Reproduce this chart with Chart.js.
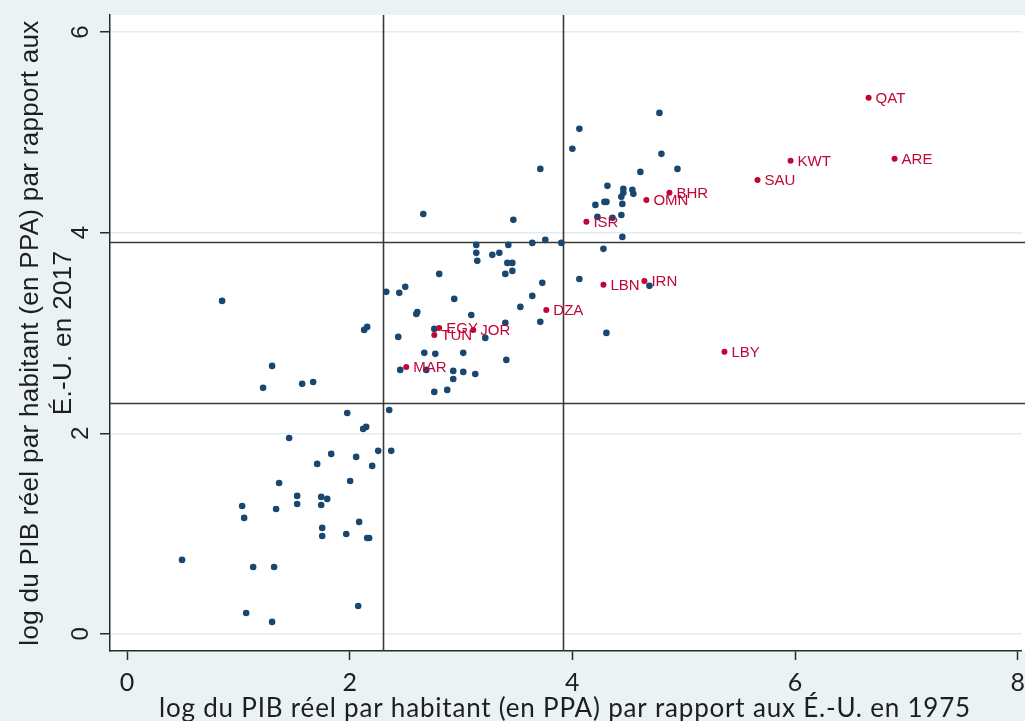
<!DOCTYPE html>
<html><head><meta charset="utf-8">
<script src="https://cdn.jsdelivr.net/npm/chart.js@4"></script>
<style>html,body{margin:0;padding:0;background:#eaf2f3;overflow:hidden}canvas{display:block}</style>
</head><body>
<canvas id="c" width="1025" height="721"></canvas>
<script>
// Other countries (blue)
const otherX = [0.494,1.070,1.303,1.133,1.321,1.034,1.052,1.339,1.366,1.456,1.528,1.528,1.744,1.798,1.744,1.708,1.834,1.753,1.753,1.969,
  2.085,2.157,2.175,2.004,2.058,2.202,2.256,2.373,1.978,2.121,2.148,2.076,2.355,1.222,1.303,1.573,1.672,0.854,2.130,2.157,
  2.328,2.445,2.499,2.436,2.804,2.598,2.607,2.760,2.670,2.769,3.020,2.454,2.688,2.930,3.020,3.128,2.930,2.760,2.876,2.939,
  3.092,3.218,3.398,3.407,3.533,3.640,3.712,3.730,4.063,3.137,3.137,3.146,3.281,3.344,3.425,3.416,3.461,3.398,3.461,3.640,
  3.757,3.901,2.661,3.470,3.712,4.000,4.063,4.782,4.800,4.944,4.611,4.315,4.458,4.458,4.539,4.548,4.440,4.449,4.288,4.306,
  4.207,4.225,4.360,4.440,4.449,4.279,4.692,4.306];
const otherY = [0.738,0.209,0.120,0.668,0.668,1.276,1.157,1.246,1.505,1.954,1.376,1.296,1.366,1.346,1.286,1.695,1.795,1.057,0.977,0.997,
  1.117,0.957,0.957,1.525,1.765,1.675,1.825,1.825,2.203,2.044,2.064,0.279,2.233,2.453,2.672,2.493,2.512,3.320,3.031,3.061,
  3.410,3.400,3.460,2.961,3.589,3.190,3.210,3.041,2.802,2.792,2.802,2.632,2.632,2.622,2.612,2.592,2.542,2.413,2.433,3.340,
  3.180,2.951,3.101,2.732,3.260,3.370,3.111,3.500,3.539,3.878,3.799,3.719,3.779,3.799,3.878,3.699,3.699,3.589,3.619,3.898,
  3.928,3.898,4.187,4.128,4.636,4.836,5.035,5.194,4.786,4.636,4.606,4.467,4.437,4.397,4.427,4.387,4.357,4.287,4.307,4.307,
  4.277,4.158,4.148,4.177,3.958,3.839,3.470,3.001];
// MENA countries (red, labelled)
const menaCodes = ['QAT','ARE','KWT','SAU','BHR','OMN','ISR','LBN','IRN','DZA','LBY','EGY','JOR','TUN','MAR'];
const menaX = [6.661,6.894,5.960,5.663,4.872,4.665,4.126,4.279,4.647,3.766,5.366,2.804,3.110,2.760,2.508];
const menaY = [5.344,4.736,4.716,4.526,4.397,4.327,4.108,3.480,3.519,3.230,2.812,3.051,3.031,2.981,2.662];
const xTicks = [0,2,4,6,8];
const yTicks = [0,2,4,6];
const refLines = [2.303,3.912];
const xTitle = 'log du PIB réel par habitant (en PPA) par rapport aux É.-U. en 1975';
const yTitle = ['log du PIB réel par habitant (en PPA) par rapport aux','É.-U. en 2017'];

const toPts = (xs, ys) => xs.map((x, i) => ({x, y: ys[i]}));

const decor = {
  id: 'decor',
  beforeDraw(chart) {
    const {ctx, chartArea: a} = chart;
    ctx.save();
    ctx.fillStyle = '#ffffff';
    ctx.fillRect(a.left, a.top, 1025 - a.left, a.bottom - a.top);
    ctx.restore();
  },
  beforeDatasetsDraw(chart) {
    const {ctx, chartArea: a, scales: {x, y}} = chart;
    ctx.save();
    ctx.strokeStyle = '#3a3a3a';
    ctx.lineWidth = 1.6;
    refLines.forEach(v => {
      const px = Math.round(x.getPixelForValue(v)) + 0.5;
      ctx.beginPath(); ctx.moveTo(px, a.top); ctx.lineTo(px, a.bottom); ctx.stroke();
      const py = Math.round(y.getPixelForValue(v)) + 0.5;
      ctx.beginPath(); ctx.moveTo(a.left, py); ctx.lineTo(1025, py); ctx.stroke();
    });
    ctx.restore();
  },
  afterDatasetsDraw(chart) {
    const {ctx} = chart;
    const meta = chart.getDatasetMeta(0);
    ctx.save();
    ctx.fillStyle = '#c10534';
    ctx.font = '15px "Liberation Sans", Arial, sans-serif';
    ctx.textBaseline = 'middle';
    ctx.textAlign = 'left';
    meta.data.forEach((el, i) => {
      ctx.fillText(menaCodes[i], el.x + 7, el.y + 1);
    });
    ctx.restore();
  },
  afterDraw(chart) {
    const {ctx, chartArea: a, scales: {y}} = chart;
    ctx.save();
    ctx.fillStyle = '#1e1e1e';
    // y tick labels, rotated
    ctx.font = '24px "Liberation Sans", Arial, sans-serif';
    ctx.textAlign = 'center';
    ctx.textBaseline = 'alphabetic';
    yTicks.forEach(v => {
      const py = y.getPixelForValue(v);
      ctx.save();
      ctx.translate(88, py);
      ctx.rotate(-Math.PI / 2);
      ctx.fillText(String(v), 0, 0);
      ctx.restore();
    });
    // y title, two lines rotated
    ctx.font = '26px "Liberation Sans", Arial, sans-serif';
    ctx.letterSpacing = '0.3px';
    const cy = (a.top + a.bottom) / 2;
    [38, 71].forEach((bx, i) => {
      ctx.save();
      ctx.translate(bx, cy);
      ctx.rotate(-Math.PI / 2);
      ctx.fillText(yTitle[i], 0, 0);
      ctx.restore();
    });
    // x title
    ctx.font = '26px Lato, "Open Sans", sans-serif';
    ctx.letterSpacing = '0.8px';
    ctx.textAlign = 'center';
    ctx.fillText(xTitle, 565, 717);
    ctx.restore();
  }
};

new Chart(document.getElementById('c'), {
  type: 'scatter',
  data: {
    datasets: [
      {label: 'MENA', data: toPts(menaX, menaY), backgroundColor: '#c10534', pointRadius: 3, borderWidth: 0, pointHoverRadius: 3},
      {label: 'Autres', data: toPts(otherX, otherY), backgroundColor: '#1a476f', pointRadius: 3.3, borderWidth: 0, pointHoverRadius: 3.3}
    ]
  },
  options: {
    responsive: false,
    animation: false,
    events: [],
    layout: {padding: {top: 15, right: 0, left: 0, bottom: 0}},
    plugins: {legend: {display: false}, tooltip: {enabled: false}},
    scales: {
      x: {
        type: 'linear',
        min: -0.153, max: 8.036,
        afterFit(s) { s.height = 70; s.paddingLeft = 0; s.paddingRight = 0; },
        afterBuildTicks(s) { s.ticks = xTicks.map(v => ({value: v})); },
        grid: {drawOnChartArea: false, color: 'rgba(0,0,0,0)', tickColor: '#2a2a2a', tickLength: 9, tickWidth: 1.5},
        border: {display: true, color: '#2a2a2a', width: 1.5},
        ticks: {color: '#1e1e1e', font: {family: 'Lato', size: 25}, padding: 8, maxRotation: 0, autoSkip: false}
      },
      y: {
        type: 'linear',
        min: -0.17, max: 6.17,
        afterFit(s) { s.width = 110; s.paddingTop = 0; s.paddingBottom = 0; },
        afterBuildTicks(s) { s.ticks = yTicks.map(v => ({value: v})); },
        grid: {color: '#e3ecef', lineWidth: 1.5, tickColor: '#2a2a2a', tickLength: 10, tickWidth: 1.5},
        border: {display: true, color: '#2a2a2a', width: 1.5},
        ticks: {display: false}
      }
    }
  },
  plugins: [decor]
});
</script>
</body></html>
